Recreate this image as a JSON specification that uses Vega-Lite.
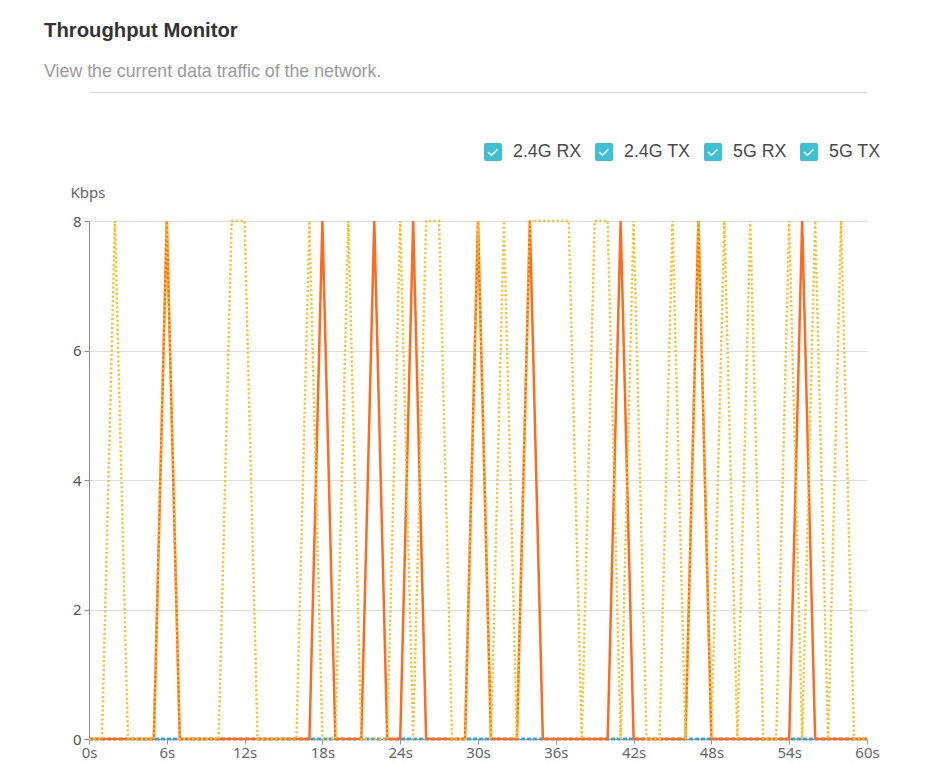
{
  "$schema": "https://vega.github.io/schema/vega-lite/v6.json",
  "autosize": "none",
  "width": 778,
  "height": 518,
  "padding": {"left": 89, "top": 221, "right": 60, "bottom": 25},
  "background": "white",
  "title": {
    "text": "Throughput Monitor",
    "subtitle": "View the current data traffic of the network.",
    "anchor": "start",
    "frame": "group",
    "dx": -45,
    "offset": 11,
    "font": "Liberation Sans",
    "fontSize": 20.3,
    "fontWeight": "bold",
    "color": "#333333",
    "subtitleFont": "Liberation Sans",
    "subtitleFontSize": 17.8,
    "subtitleColor": "#9a9a9a",
    "subtitlePadding": 22
  },
  "config": {
    "view": {"stroke": null},
    "axis": {"labelFont": "Noto Sans", "titleFont": "Noto Sans"}
  },
  "resolve": {"axis": {"x": "independent"}},
  "data": {
    "values": [
      {"t":0,"r24":0,"t24":0,"r5":0,"t5":0},
      {"t":1,"r24":0,"t24":0,"r5":0,"t5":0},
      {"t":2,"r24":0,"t24":0,"r5":0,"t5":8},
      {"t":3,"r24":0,"t24":0,"r5":0,"t5":0},
      {"t":4,"r24":0,"t24":0,"r5":0,"t5":0},
      {"t":5,"r24":0,"t24":0,"r5":0,"t5":0},
      {"t":6,"r24":0,"t24":0,"r5":8,"t5":8},
      {"t":7,"r24":0,"t24":0,"r5":0,"t5":0},
      {"t":8,"r24":0,"t24":0,"r5":0,"t5":0},
      {"t":9,"r24":0,"t24":0,"r5":0,"t5":0},
      {"t":10,"r24":0,"t24":0,"r5":0,"t5":0},
      {"t":11,"r24":0,"t24":0,"r5":0,"t5":8},
      {"t":12,"r24":0,"t24":0,"r5":0,"t5":8},
      {"t":13,"r24":0,"t24":0,"r5":0,"t5":0},
      {"t":14,"r24":0,"t24":0,"r5":0,"t5":0},
      {"t":15,"r24":0,"t24":0,"r5":0,"t5":0},
      {"t":16,"r24":0,"t24":0,"r5":0,"t5":0},
      {"t":17,"r24":0,"t24":0,"r5":0,"t5":8},
      {"t":18,"r24":0,"t24":0,"r5":8,"t5":0},
      {"t":19,"r24":0,"t24":0,"r5":0,"t5":0},
      {"t":20,"r24":0,"t24":0,"r5":0,"t5":8},
      {"t":21,"r24":0,"t24":0,"r5":0,"t5":0},
      {"t":22,"r24":0,"t24":0,"r5":8,"t5":0},
      {"t":23,"r24":0,"t24":0,"r5":0,"t5":0},
      {"t":24,"r24":0,"t24":0,"r5":0,"t5":8},
      {"t":25,"r24":0,"t24":0,"r5":8,"t5":0},
      {"t":26,"r24":0,"t24":0,"r5":0,"t5":8},
      {"t":27,"r24":0,"t24":0,"r5":0,"t5":8},
      {"t":28,"r24":0,"t24":0,"r5":0,"t5":0},
      {"t":29,"r24":0,"t24":0,"r5":0,"t5":0},
      {"t":30,"r24":0,"t24":0,"r5":8,"t5":8},
      {"t":31,"r24":0,"t24":0,"r5":0,"t5":0},
      {"t":32,"r24":0,"t24":0,"r5":0,"t5":8},
      {"t":33,"r24":0,"t24":0,"r5":0,"t5":0},
      {"t":34,"r24":0,"t24":0,"r5":8,"t5":8},
      {"t":35,"r24":0,"t24":0,"r5":0,"t5":8},
      {"t":36,"r24":0,"t24":0,"r5":0,"t5":8},
      {"t":37,"r24":0,"t24":0,"r5":0,"t5":8},
      {"t":38,"r24":0,"t24":0,"r5":0,"t5":0},
      {"t":39,"r24":0,"t24":0,"r5":0,"t5":8},
      {"t":40,"r24":0,"t24":0,"r5":0,"t5":8},
      {"t":41,"r24":0,"t24":0,"r5":8,"t5":0},
      {"t":42,"r24":0,"t24":0,"r5":0,"t5":8},
      {"t":43,"r24":0,"t24":0,"r5":0,"t5":0},
      {"t":44,"r24":0,"t24":0,"r5":0,"t5":0},
      {"t":45,"r24":0,"t24":0,"r5":0,"t5":8},
      {"t":46,"r24":0,"t24":0,"r5":0,"t5":0},
      {"t":47,"r24":0,"t24":0,"r5":8,"t5":8},
      {"t":48,"r24":0,"t24":0,"r5":0,"t5":0},
      {"t":49,"r24":0,"t24":0,"r5":0,"t5":8},
      {"t":50,"r24":0,"t24":0,"r5":0,"t5":0},
      {"t":51,"r24":0,"t24":0,"r5":0,"t5":8},
      {"t":52,"r24":0,"t24":0,"r5":0,"t5":0},
      {"t":53,"r24":0,"t24":0,"r5":0,"t5":0},
      {"t":54,"r24":0,"t24":0,"r5":0,"t5":8},
      {"t":55,"r24":0,"t24":0,"r5":8,"t5":0},
      {"t":56,"r24":0,"t24":0,"r5":0,"t5":8},
      {"t":57,"r24":0,"t24":0,"r5":0,"t5":0},
      {"t":58,"r24":0,"t24":0,"r5":0,"t5":8},
      {"t":59,"r24":0,"t24":0,"r5":0,"t5":0},
      {"t":60,"r24":0,"t24":0,"r5":0,"t5":0}
    ]
  },
  "layer": [
    {
      "mark": {"type": "line", "strokeWidth": 2.5, "strokeDash": [4, 2], "clip": false},
      "encoding": {
        "x": {
          "field": "t",
          "type": "quantitative",
          "scale": {"domain": [0, 60], "nice": false, "zero": false},
          "axis": {
            "values": [0, 6, 12, 18, 24, 30, 36, 42, 48, 54, 60],
            "labelExpr": "datum.value + 's'",
            "title": null,
            "grid": false,
            "domainColor": "#9a9a9a",
            "tickColor": "#9a9a9a",
            "tickSize": 5,
            "labelFontSize": 15,
            "labelColor": "#666666",
            "labelPadding": 1,
            "labelFlush": false
          }
        },
        "y": {
          "field": "t24",
          "type": "quantitative",
          "scale": {"domain": [0, 8], "nice": false},
          "axis": {
            "values": [0, 2, 4, 6, 8],
            "format": "d",
            "title": "Kbps",
            "titleAngle": 0,
            "titleAlign": "left",
            "titleBaseline": "middle",
            "titleX": -19,
            "titleY": -29,
            "titleFontSize": 15,
            "titleFontWeight": "normal",
            "titleColor": "#666666",
            "grid": true,
            "gridColor": "#dddddd",
            "domainColor": "#8a8a8a",
            "tickColor": "#8a8a8a",
            "tickSize": 5,
            "labelFontSize": 15,
            "labelColor": "#555555",
            "labelPadding": 3
          }
        },
        "color": {"datum": "2.4G TX"}
      }
    },
    {
      "mark": {"type": "line", "strokeWidth": 2.5, "strokeDash": [4, 2], "clip": false},
      "encoding": {
        "x": {
          "field": "t",
          "type": "quantitative",
          "axis": {
            "orient": "top",
            "offset": 129,
            "labels": false,
            "ticks": false,
            "grid": false,
            "title": null,
            "domainColor": "#dcdcdc",
            "domainWidth": 1
          }
        },
        "y": {"field": "r24", "type": "quantitative"},
        "color": {"datum": "2.4G RX"}
      }
    },
    {
      "mark": {"type": "line", "strokeWidth": 2.5, "clip": false},
      "encoding": {
        "x": {"field": "t", "type": "quantitative", "axis": null},
        "y": {"field": "r5", "type": "quantitative"},
        "color": {"datum": "5G RX"}
      }
    },
    {
      "mark": {"type": "line", "strokeWidth": 2.5, "strokeDash": [2, 2.5], "clip": false},
      "encoding": {
        "x": {"field": "t", "type": "quantitative", "axis": null},
        "y": {"field": "t5", "type": "quantitative"},
        "color": {
          "datum": "5G TX",
          "scale": {
            "domain": ["2.4G RX", "2.4G TX", "5G RX", "5G TX"],
            "range": ["#2a9df4", "#4cc66a", "#ff6a1c", "#ffbe1f"]
          },
          "legend": {
            "title": null,
            "orient": "none",
            "legendX": 395,
            "legendY": -78,
            "direction": "horizontal",
            "symbolType": "M -0.78 -1 L 0.78 -1 Q 1 -1 1 -0.78 L 1 0.78 Q 1 1 0.78 1 L -0.78 1 Q -1 1 -1 0.78 L -1 -0.78 Q -1 -1 -0.78 -1 Z M -0.5 -0.05 L -0.62 0.08 L -0.15 0.47 L 0.55 -0.22 L 0.43 -0.35 L -0.15 0.24 Z",
            "symbolSize": 324,
            "symbolStrokeWidth": 0,
            "labelFont": "Liberation Sans",
            "labelFontSize": 17.8,
            "labelColor": "#4a4a4a",
            "labelOffset": 11,
            "columnPadding": 13,
            "encode": {
              "symbols": {
                "update": {
                  "fill": {"value": "#3cc1d3"},
                  "stroke": {"value": "transparent"},
                  "strokeDash": {"value": []},
                  "opacity": {"value": 1}
                }
              }
            }
          }
        }
      }
    }
  ]
}
